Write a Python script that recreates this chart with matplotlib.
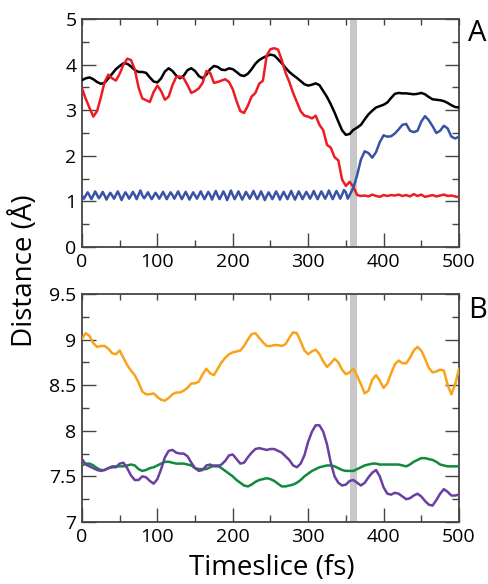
import numpy as np
import matplotlib
matplotlib.use('Agg')
import matplotlib.pyplot as plt
from matplotlib.ticker import MultipleLocator

plt.rcParams['font.family'] = ['Open Sans', 'DejaVu Sans']

# time axes (fs)
t = np.arange(0, 505, 5)
t_fine = np.arange(0, 357.5, 2.5)
t_late = np.arange(360, 505, 5)

# panel A
black = [3.66, 3.70, 3.72, 3.68, 3.62, 3.58, 3.60, 3.70, 3.80, 3.90,
         3.97, 4.03, 4.02, 3.96, 3.88, 3.84, 3.84, 3.82, 3.72, 3.63,
         3.61, 3.70, 3.85, 3.92, 3.86, 3.76, 3.70, 3.76, 3.88, 3.92,
         3.86, 3.75, 3.70, 3.78, 3.90, 3.97, 3.95, 3.89, 3.88, 3.92,
         3.90, 3.84, 3.77, 3.75, 3.80, 3.90, 4.02, 4.10, 4.15, 4.19,
         4.22, 4.20, 4.12, 4.03, 3.93, 3.84, 3.77, 3.71, 3.64, 3.57,
         3.54, 3.56, 3.59, 3.55, 3.42, 3.29, 3.13, 2.95, 2.75, 2.56,
         2.46, 2.48, 2.57, 2.62, 2.68, 2.80, 2.91, 2.99, 3.06, 3.09,
         3.12, 3.17, 3.27, 3.36, 3.38, 3.37, 3.37, 3.36, 3.35, 3.36,
         3.38, 3.35, 3.29, 3.24, 3.23, 3.22, 3.20, 3.16, 3.11, 3.07,
         3.06]

red = [3.48, 3.25, 3.05, 2.86, 2.98, 3.28, 3.62, 3.78, 3.70, 3.65,
       3.80, 4.00, 4.13, 4.10, 3.90, 3.50, 3.26, 3.22, 3.18, 3.40,
       3.54, 3.42, 3.23, 3.30, 3.55, 3.73, 3.74, 3.70, 3.55, 3.38,
       3.42, 3.48, 3.60, 3.86, 3.82, 3.60, 3.62, 3.65, 3.68, 3.62,
       3.46, 3.20, 2.98, 2.94, 3.10, 3.30, 3.38, 3.58, 3.65, 4.20,
       4.34, 4.36, 4.33, 4.10, 3.82, 3.62, 3.38, 3.18, 2.98, 2.88,
       2.86, 2.82, 2.88, 2.68, 2.56, 2.24, 2.18, 1.97, 1.90, 1.48,
       1.34, 1.43, 1.32, 1.14, 1.12, 1.13, 1.11, 1.15, 1.12, 1.10,
       1.14, 1.12, 1.14, 1.13, 1.15, 1.12, 1.14, 1.11, 1.16, 1.12,
       1.15, 1.10, 1.12, 1.14, 1.11, 1.13, 1.15, 1.12, 1.13, 1.11,
       1.09]

blue_early = [1.13, 1.06, 1.13, 1.20, 1.13, 1.05, 1.13, 1.22, 1.14, 1.07,
              1.13, 1.21, 1.13, 1.04, 1.12, 1.19, 1.13, 1.06, 1.14, 1.22,
              1.13, 1.03, 1.12, 1.20, 1.14, 1.06, 1.13, 1.21, 1.14, 1.05,
              1.15, 1.24, 1.13, 1.07, 1.13, 1.20, 1.12, 1.05, 1.12, 1.19,
              1.13, 1.06, 1.13, 1.21, 1.13, 1.05, 1.13, 1.20, 1.14, 1.06,
              1.14, 1.22, 1.13, 1.05, 1.13, 1.21, 1.13, 1.04, 1.12, 1.20,
              1.13, 1.06, 1.14, 1.22, 1.13, 1.05, 1.13, 1.21, 1.14, 1.04,
              1.14, 1.23, 1.13, 1.05, 1.13, 1.22, 1.14, 1.03, 1.13, 1.24,
              1.14, 1.05, 1.13, 1.22, 1.13, 1.04, 1.12, 1.21, 1.14, 1.06,
              1.14, 1.23, 1.13, 1.05, 1.13, 1.22, 1.13, 1.03, 1.12, 1.20,
              1.13, 1.05, 1.13, 1.22, 1.14, 1.04, 1.13, 1.21, 1.13, 1.05,
              1.14, 1.23, 1.13, 1.04, 1.13, 1.22, 1.14, 1.05, 1.13, 1.21,
              1.14, 1.06, 1.14, 1.23, 1.13, 1.05, 1.14, 1.22, 1.14, 1.06,
              1.14, 1.24, 1.14, 1.05, 1.14, 1.23, 1.15, 1.06, 1.15, 1.25,
              1.20, 1.06, 1.14]
blue_late = [1.30, 1.58, 1.92, 2.10, 2.06, 1.96, 2.08, 2.30, 2.45, 2.42,
             2.43, 2.49, 2.58, 2.68, 2.70, 2.55, 2.52, 2.55, 2.75, 2.87,
             2.78, 2.65, 2.50, 2.55, 2.66, 2.60, 2.42, 2.38, 2.42]

# panel B
orange = [9.01, 9.07, 9.04, 8.96, 8.92, 8.93, 8.93, 8.90, 8.85, 8.84,
          8.88, 8.80, 8.72, 8.66, 8.61, 8.53, 8.43, 8.40, 8.40, 8.41,
          8.37, 8.34, 8.33, 8.36, 8.40, 8.42, 8.42, 8.44, 8.47, 8.52,
          8.52, 8.54, 8.62, 8.68, 8.63, 8.61, 8.68, 8.75, 8.80, 8.84,
          8.86, 8.87, 8.88, 8.93, 9.00, 9.06, 9.07, 9.02, 8.97, 8.93,
          8.93, 8.94, 8.94, 8.93, 8.95, 9.02, 9.08, 9.07, 8.98, 8.88,
          8.84, 8.87, 8.89, 8.84, 8.76, 8.70, 8.74, 8.79, 8.75, 8.67,
          8.62, 8.64, 8.68, 8.60, 8.51, 8.41, 8.44, 8.56, 8.61, 8.55,
          8.47, 8.52, 8.63, 8.73, 8.77, 8.74, 8.74, 8.80, 8.88, 8.92,
          8.88, 8.79, 8.69, 8.64, 8.65, 8.67, 8.66, 8.50, 8.40, 8.51,
          8.68]

green = [7.62, 7.64, 7.64, 7.62, 7.59, 7.57, 7.57, 7.59, 7.61, 7.61,
         7.61, 7.61, 7.62, 7.63, 7.62, 7.58, 7.56, 7.57, 7.59, 7.60,
         7.62, 7.64, 7.66, 7.66, 7.65, 7.64, 7.64, 7.64, 7.63, 7.62,
         7.59, 7.58, 7.58, 7.58, 7.60, 7.62, 7.62, 7.59, 7.56, 7.53,
         7.50, 7.46, 7.43, 7.40, 7.39, 7.41, 7.44, 7.46, 7.47, 7.48,
         7.47, 7.45, 7.42, 7.39, 7.39, 7.40, 7.41, 7.43, 7.46, 7.50,
         7.53, 7.56, 7.58, 7.60, 7.61, 7.62, 7.62, 7.61, 7.59, 7.57,
         7.56, 7.56, 7.56, 7.58, 7.60, 7.62, 7.63, 7.64, 7.64, 7.63,
         7.63, 7.63, 7.63, 7.63, 7.63, 7.62, 7.61, 7.63, 7.66, 7.68,
         7.70, 7.70, 7.69, 7.68, 7.66, 7.63, 7.62, 7.61, 7.61, 7.61,
         7.61]

purple = [7.69, 7.63, 7.61, 7.59, 7.57, 7.56, 7.57, 7.59, 7.60, 7.60,
          7.64, 7.65, 7.59, 7.51, 7.46, 7.46, 7.50, 7.49, 7.45, 7.42,
          7.47, 7.58, 7.71, 7.78, 7.79, 7.76, 7.75, 7.75, 7.72, 7.65,
          7.59, 7.56, 7.57, 7.62, 7.63, 7.61, 7.61, 7.63, 7.67, 7.73,
          7.74, 7.69, 7.64, 7.65, 7.71, 7.76, 7.80, 7.81, 7.80, 7.79,
          7.80, 7.80, 7.78, 7.76, 7.72, 7.68, 7.62, 7.60, 7.64, 7.73,
          7.88, 7.99, 8.06, 8.06, 7.99, 7.85, 7.65, 7.50, 7.43, 7.40,
          7.41, 7.45, 7.46, 7.43, 7.40, 7.43, 7.49, 7.54, 7.57, 7.50,
          7.38, 7.31, 7.30, 7.32, 7.31, 7.28, 7.25, 7.26, 7.29, 7.31,
          7.28, 7.23, 7.19, 7.18, 7.24, 7.31, 7.36, 7.33, 7.29, 7.29,
          7.30]

band = (355, 365)

fig = plt.figure(figsize=(4.88, 5.84), dpi=100)
axA = fig.add_axes([0.168, 0.5770, 0.7725, 0.3904])
axB = fig.add_axes([0.168, 0.1062, 0.7725, 0.3904])

style = dict(lw=1.8, solid_joinstyle='round', solid_capstyle='round')
axA.plot(t, black, color='black', zorder=3, **style)
axA.plot(t, red, color='#ED1C24', zorder=3, **style)
axA.plot(np.concatenate([t_fine, t_late]), blue_early + blue_late,
         color='#3953A4', zorder=4, **style)
axB.plot(t, orange, color='#F9A31B', zorder=3, **style)
axB.plot(t, green, color='#11893C', zorder=3, **style)
axB.plot(t, purple, color='#6B3FA0', zorder=3, **style)

for ax, ylim, major, minor in [(axA, (0, 5), 1, 0.5), (axB, (7, 9.5), 0.5, 0.25)]:
    ax.axvspan(*band, color='#C8C8C8', lw=0, zorder=2)
    ax.set_xlim(0, 500)
    ax.set_ylim(*ylim)
    ax.xaxis.set_major_locator(MultipleLocator(100))
    ax.xaxis.set_minor_locator(MultipleLocator(50))
    ax.yaxis.set_major_locator(MultipleLocator(major))
    ax.yaxis.set_minor_locator(MultipleLocator(minor))
    ax.tick_params(which='both', direction='in', left=True, right=True,
                   bottom=True, top=False, width=1.0, color='#444444',
                   labelsize=14)
    ax.tick_params(which='major', length=10, pad=4)
    ax.tick_params(which='minor', length=5)
    ax.yaxis.set_major_formatter(plt.FuncFormatter(lambda v, p: f'{v:g}'))
    for s in ax.spines.values():
        s.set_linewidth(1.3)
        s.set_color('#444444')
    top = ax.secondary_xaxis('top')
    top.xaxis.set_major_locator(MultipleLocator(50))
    top.tick_params(direction='in', length=4.5, width=1.0, color='#444444',
                    labeltop=False)
    top.spines['top'].set_visible(False)

fig.text(0.959, 0.9675, 'A', fontsize=21, va='top', ha='left')
fig.text(0.959, 0.493, 'B', fontsize=21, va='top', ha='left')
fig.text(0.05, 0.537, 'Distance (Å)', fontsize=20, rotation=90,
         ha='center', va='center')
fig.text(0.556, 0.028, 'Timeslice (fs)', fontsize=20, ha='center',
         va='center')

plt.savefig('out.png', dpi=100)
